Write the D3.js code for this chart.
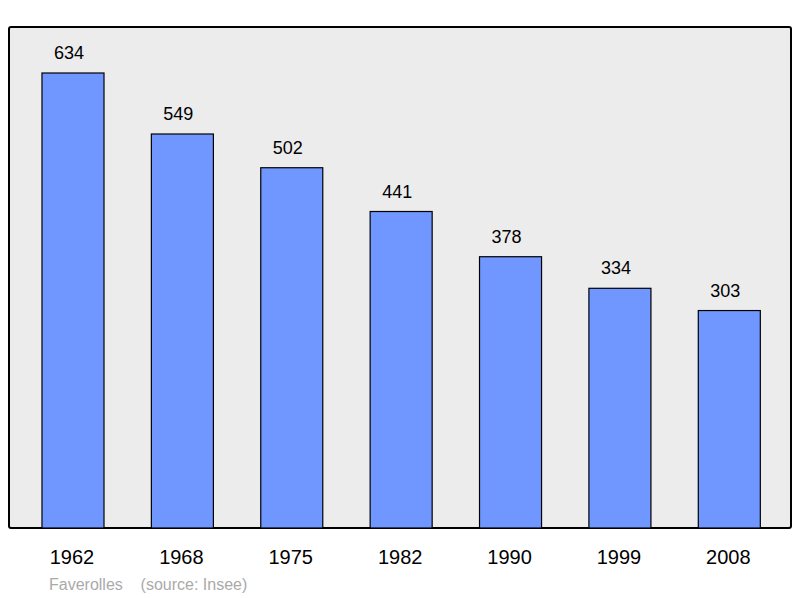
<!DOCTYPE html>
<html><head><meta charset="utf-8">
<script src="https://cdn.jsdelivr.net/npm/d3@7"></script>
<style>body{margin:0;background:#fff}</style>
</head><body>
<script>
let years=['1962','1968','1975','1982','1990','1999','2008']
let pop=[634,549,502,441,378,334,303]
let w=800,h=598
let svg=d3.select('body').append('svg').attr('width',w).attr('height',h)
svg.append('rect').attr('x',9).attr('y',27).attr('width',782).attr('height',501)
  .attr('rx',2).attr('fill','#ececec').attr('stroke','#000').attr('stroke-width',2)
let x=d3.scaleBand().domain(years).range([18.3,784]).paddingInner(0.433).paddingOuter(0.2165)
let y=d3.scaleLinear().domain([0,634]).range([528,73])
svg.selectAll('.bar').data(pop).enter().append('rect')
  .attr('x',(d,i)=>x(years[i])).attr('y',d=>y(d))
  .attr('width',x.bandwidth()).attr('height',d=>528-y(d))
  .attr('fill','#7097ff').attr('stroke','#000').attr('stroke-width',1.2)
svg.selectAll('.val').data(pop).enter().append('text')
  .attr('x',(d,i)=>x(years[i])+x.bandwidth()/2-4).attr('y',d=>y(d)-14)
  .attr('text-anchor','middle').attr('font-family','Liberation Sans, Arial, sans-serif')
  .attr('font-size',18).text(d=>d)
svg.selectAll('.yr').data(years).enter().append('text')
  .attr('x',d=>x(d)+x.bandwidth()/2-1).attr('y',564)
  .attr('text-anchor','middle').attr('font-family','Liberation Sans, Arial, sans-serif')
  .attr('font-size',20).text(d=>d)
svg.append('text').attr('x',49).attr('y',590).attr('fill','#aaa')
  .attr('font-family','Liberation Sans, Arial, sans-serif').attr('font-size',16)
  .attr('xml:space','preserve').style('white-space','pre').text('Faverolles    (source: Insee)')
</script>
</body></html>
